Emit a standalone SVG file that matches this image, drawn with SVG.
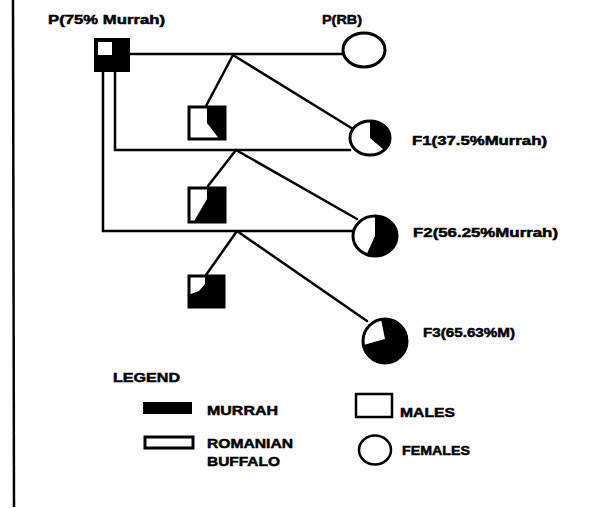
<svg xmlns="http://www.w3.org/2000/svg" width="596" height="508" viewBox="0 0 596 508">
<style>
.ln{stroke:#000;stroke-width:2.5;fill:none;stroke-linecap:round}
.box{fill:#fff;stroke:#000;stroke-width:3}
.dk{fill:#000;stroke:none}
.t{font-family:"Liberation Sans",Arial,sans-serif;font-weight:bold;font-size:13px;fill:#000;stroke:#000;stroke-width:0.5}
</style>
<rect width="596" height="508" fill="#fff"/>
<line x1="13" y1="0" x2="14" y2="507" stroke="#000" stroke-width="2.5"/>
<g id="connectors">
<polyline class="ln" points="130,54 344,54"/>
<polyline class="ln" points="103,72 103,231 354,231"/>
<polyline class="ln" points="115,72 115,150 350,150"/>
<line class="ln" x1="233" y1="55" x2="206" y2="106"/>
<line class="ln" x1="233" y1="55" x2="353" y2="129"/>
<line class="ln" x1="236" y1="150" x2="208" y2="186"/>
<line class="ln" x1="236" y1="150" x2="357" y2="219"/>
<line class="ln" x1="237" y1="231" x2="206" y2="275"/>
<line class="ln" x1="237" y1="231" x2="367" y2="321"/>
</g>
<g id="p-murrah">
<rect x="95" y="39" width="34" height="32" fill="#000" stroke="#000" stroke-width="2"/>
<rect x="98" y="42" width="14" height="13" fill="#fff"/>
<text class="t" x="48" y="24" textLength="117" lengthAdjust="spacingAndGlyphs">P(75% Murrah)</text>
</g>
<g id="p-rb">
<ellipse class="box" cx="364" cy="50" rx="21" ry="17"/>
<text class="t" x="322" y="24" textLength="40" lengthAdjust="spacingAndGlyphs">P(RB)</text>
</g>
<g id="son1">
<rect class="box" x="189" y="107" width="36" height="32"/>
<polygon class="dk" points="207,106 226,106 226,140 220,140 207,123"/>
</g>
<g id="f1">
<ellipse class="box" cx="370" cy="138" rx="20" ry="17"/>
<path class="dk" d="M370,138 L370,121 A20,17 0 0,1 384.1,150 Z"/>
<text class="t" x="412" y="145" textLength="135" lengthAdjust="spacingAndGlyphs">F1(37.5%Murrah)</text>
</g>
<g id="son2">
<rect class="box" x="189" y="188" width="36" height="34"/>
<polygon class="dk" points="207,187 226,187 226,223 193,223 207,199"/>
</g>
<g id="f2">
<ellipse class="box" cx="375" cy="236" rx="22" ry="20"/>
<path class="dk" d="M375,236 L375,216 A22,20 0 1,1 366.6,254.5 Z"/>
<text class="t" x="413" y="237" textLength="145" lengthAdjust="spacingAndGlyphs">F2(56.25%Murrah)</text>
</g>
<g id="son3">
<rect class="box" x="189" y="276" width="35" height="31"/>
<polygon class="dk" points="205,275 225,275 225,308 188,308 188,295 199,291 205,284"/>
</g>
<g id="f3">
<ellipse class="box" cx="385" cy="341" rx="22" ry="22"/>
<path class="dk" d="M385,339 L381,319.3 A22,22 0 1,1 363.5,345 Z"/>
<text class="t" x="423" y="337" textLength="92" lengthAdjust="spacingAndGlyphs">F3(65.63%M)</text>
</g>
<g id="legend">
<text class="t" x="113" y="382" textLength="67" lengthAdjust="spacingAndGlyphs">LEGEND</text>
<rect x="143" y="402" width="49" height="12" fill="#000"/>
<text class="t" x="207" y="415" textLength="71" lengthAdjust="spacingAndGlyphs">MURRAH</text>
<rect x="145" y="437" width="48" height="11" fill="#fff" stroke="#000" stroke-width="3"/>
<text class="t" x="207" y="448" textLength="86" lengthAdjust="spacingAndGlyphs">ROMANIAN</text>
<text class="t" x="207" y="466" textLength="73" lengthAdjust="spacingAndGlyphs">BUFFALO</text>
<rect x="356" y="394" width="36" height="23" fill="#fff" stroke="#000" stroke-width="2.5"/>
<text class="t" x="400" y="417" textLength="55" lengthAdjust="spacingAndGlyphs">MALES</text>
<ellipse cx="375" cy="450" rx="16" ry="14.5" fill="#fff" stroke="#000" stroke-width="2.5"/>
<text class="t" x="402" y="455" textLength="68" lengthAdjust="spacingAndGlyphs">FEMALES</text>
</g>
</svg>
